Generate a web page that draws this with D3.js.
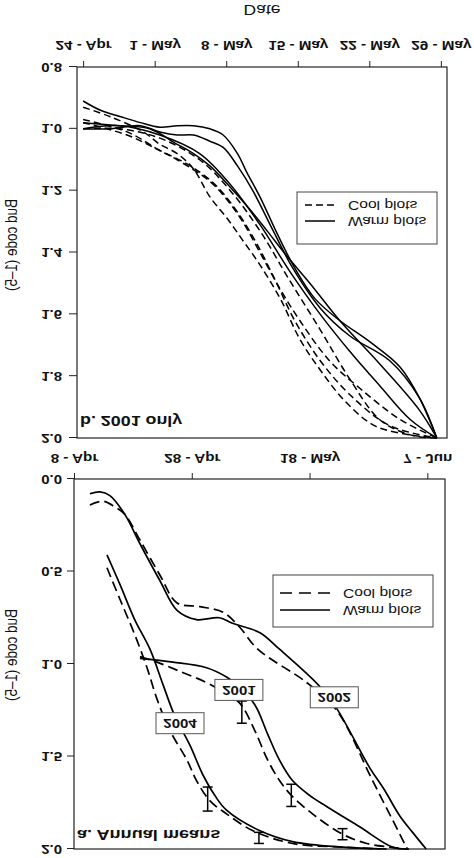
<!DOCTYPE html>
<html><head><meta charset="utf-8">
<script src="https://cdn.jsdelivr.net/npm/d3@7"></script>
<style>
html,body{margin:0;padding:0;background:#fff;}
svg{display:block;}
text{font-family:"Liberation Sans",Arial,sans-serif;fill:#111;}
</style></head><body>
<svg id="c" width="474" height="858"></svg>
<script>
// ---------- Panel a: annual means (x = days after 8 Apr) ----------
const aTickDays = [0, 20, 40, 60];
const aTickLabels = ["8 - Apr", "28 - Apr", "18 - May", "7 - Jun"];
const aYTicks = [0, 0.5, 1.0, 1.5, 2.0];
const a2002Warm = [[2.7,0.08],[4.4,0.07],[6.1,0.09],[8.6,0.19],[11.2,0.35],[14.6,0.55],[17.5,0.71],[20.8,0.76],[24.7,0.75],[26.9,0.78],[31.5,0.83],[34.9,0.92],[41.7,1.12],[44.6,1.24],[50.2,1.56],[52.7,1.68],[55.3,1.82],[57.5,1.91],[59.8,2.0]];
const a2002Cool = [[2.7,0.14],[4.9,0.12],[6.9,0.15],[8.6,0.19],[11.2,0.33],[14.6,0.52],[17.5,0.67],[21.4,0.69],[25.3,0.72],[28.1,0.80],[31.2,0.92],[39.5,1.10],[44.6,1.25],[50.7,1.63],[56.6,2.0]];
const a2001Warm = [[11.2,0.97],[16.8,0.99],[22.5,1.02],[25.9,1.07],[27.6,1.11],[30.7,1.22],[32.9,1.38],[34.9,1.52],[37.1,1.63],[40.0,1.71],[42.9,1.77],[48.5,1.88],[54.1,1.99],[56.9,2.0]];
const a2001Cool = [[11.2,0.96],[14.1,0.99],[18.0,1.04],[22.5,1.10],[24.7,1.14],[28.1,1.21],[30.7,1.36],[32.9,1.52],[34.9,1.63],[36.9,1.71],[40.5,1.81],[45.6,1.92],[49.7,1.97],[53.6,1.99],[56.1,2.0]];
const a2004Warm = [[5.6,0.41],[7.8,0.57],[10.3,0.76],[12.9,0.92],[15.1,1.11],[17.1,1.28],[19.7,1.44],[21.9,1.60],[23.9,1.71],[25.9,1.79],[31.5,1.90],[37.1,1.96],[45.6,1.99],[53.1,2.0]];
const a2004Cool = [[5.6,0.48],[7.8,0.65],[10.3,0.84],[12.4,1.02],[14.1,1.19],[16.3,1.36],[19.2,1.52],[20.8,1.63],[23.1,1.74],[25.9,1.81],[30.3,1.90],[37.1,1.97],[45.6,1.99],[51.9,2.0]];
const aErrorBars = [[22.7,1.73,0.065],[31.4,1.94,0.03],[28.5,1.26,0.06],[36.9,1.71,0.06],[45.6,1.92,0.03]];
const aYearLabels = [["2001",28.0,1.14],["2002",44.2,1.18],["2004",18.0,1.32]];

// ---------- Panel b: 2001 only (x = days after 24 Apr) ----------
const bTickDays = [0, 7, 14, 21, 28, 35];
const bTickLabels = ["24 - Apr", "1 - May", "8 - May", "15 - May", "22 - May", "29 - May"];
const bYTicks = [0.8, 1.0, 1.2, 1.4, 1.6, 1.8, 2.0];
const bWarm1 = [[0,0.91],[1.7,0.94],[3.6,0.96],[5.6,0.98],[7.5,0.995],[9.2,0.99],[10.8,0.99],[12.4,1.0],[13.7,1.02],[15.1,1.08],[16.0,1.14],[17.3,1.22],[19.0,1.34],[20.7,1.45],[22.7,1.55],[25.1,1.62],[28.1,1.69],[31.0,1.77],[32.9,1.87],[34.6,2.0]];
const bWarm2 = [[0,1.0],[2.6,1.0],[5.6,0.99],[7.5,1.01],[9.2,1.02],[10.8,1.02],[12.4,1.04],[13.7,1.06],[15.1,1.12],[16.6,1.20],[18.6,1.33],[20.5,1.45],[23.2,1.58],[26.1,1.67],[30.0,1.75],[32.9,1.87],[34.6,2.0]];
const bWarm3 = [[0,0.98],[3.6,0.99],[6.5,1.0],[9.2,1.05],[10.8,1.08],[12.4,1.12],[14.7,1.20],[16.3,1.26],[18.0,1.33],[19.9,1.41],[22.2,1.50],[25.1,1.62],[29.0,1.76],[32.9,1.91],[34.6,2.0]];
const bWarm4 = [[0,1.0],[3.6,0.99],[7.5,1.02],[11.4,1.08],[14.4,1.18],[17.3,1.31],[20.2,1.46],[23.2,1.60],[26.1,1.72],[29.0,1.83],[32.0,1.94],[34.6,2.0]];
const bCool1 = [[0,0.93],[2.6,0.96],[5.9,1.01],[7.5,1.05],[9.2,1.08],[10.8,1.13],[12.4,1.22],[14.1,1.29],[15.6,1.36],[17.3,1.44],[19.3,1.55],[21.2,1.68],[23.2,1.78],[25.6,1.88],[28.5,1.96],[32.0,1.99],[34.6,2.0]];
const bCool2 = [[0,0.97],[4.3,1.01],[7.5,1.07],[9.2,1.10],[12.4,1.17],[14.1,1.23],[15.6,1.30],[17.3,1.40],[19.3,1.52],[21.2,1.62],[24.1,1.75],[27.1,1.84],[31.0,1.94],[34.6,2.0]];
const bCool3 = [[0,0.98],[4.3,1.02],[7.5,1.07],[10.5,1.12],[12.9,1.18],[14.9,1.26],[16.8,1.36],[18.8,1.49],[20.7,1.62],[23.2,1.75],[26.1,1.86],[30.0,1.96],[34.6,2.0]];
const bCool4 = [[0,1.0],[3.6,1.0],[7.5,1.03],[11.4,1.10],[14.4,1.20],[17.3,1.33],[20.2,1.49],[23.2,1.65],[26.1,1.81],[29.0,1.94],[32.0,1.99],[34.6,2.0]];

const legendLabels = ["Warm plots", "Cool plots"];

// ---------- drawing ----------
const W = 474, H = 858, SX = 1.25;
const svg = d3.select("#c");
// the whole figure appears mirrored top-to-bottom
const root = svg.append("g").attr("transform", `translate(0,${H}) scale(1,-1)`);

const xA = d3.scaleLinear().domain([0, 63]).range([74, 445]);
const yA = d3.scaleLinear().domain([0, 2]).range([379, 9]);
const xB = d3.scaleLinear().domain([-0.6, 35.6]).range([77, 447]);
const yB = d3.scaleLinear().domain([0.8, 2.0]).range([791, 420]);

function txt(g, x, y, s, size, weight, anchor) {
  return g.append("text")
    .attr("transform", `translate(${x},${y}) scale(${SX},1)`)
    .attr("text-anchor", anchor || "start")
    .attr("dy", "0.35em")
    .style("font-size", size + "px")
    .style("font-weight", weight || "normal")
    .text(s);
}

function panel(xs, ys, xTicks, xLabels, yTicks, yFmt, opts) {
  const g = root.append("g");
  const [x0, x1] = xs.range(), [y0, y1] = ys.range();
  const ax = g.append("g").attr("transform", `translate(0,${y0})`)
    .call(d3.axisBottom(xs).tickValues(xTicks).tickFormat((d, i) => xLabels[i])
      .tickSize(6).tickSizeOuter(0).tickPadding(opts.xPad));
  ax.selectAll("text").attr("transform", `scale(${SX},1)`)
    .style("font-size", "12.2px").style("font-weight", "bold");
  const ay = g.append("g").attr("transform", `translate(${x0},0)`)
    .call(d3.axisLeft(ys).tickValues(yTicks).tickFormat(yFmt).tickSize(opts.yTick).tickSizeOuter(0));
  ay.selectAll("text").attr("x", -opts.yLab / SX).attr("transform", `scale(${SX},1)`)
    .style("font-size", "12px").style("font-weight", "bold");
  g.selectAll(".domain").remove();
  g.selectAll(".tick line").attr("stroke", "#222");
  g.append("rect").attr("x", x0).attr("y", y1).attr("width", x1 - x0).attr("height", y0 - y1)
    .attr("fill", "none").attr("stroke", "#222").attr("stroke-width", 1.2);
  return g;
}

function drawLines(g, xs, ys, list, dash, sw) {
  const line = d3.line().x(d => xs(d[0])).y(d => ys(d[1])).curve(d3.curveCatmullRom.alpha(0.5));
  list.forEach(s => {
    g.append("path").attr("d", line(s.data)).attr("fill", "none").attr("stroke", "#000")
      .attr("stroke-width", sw).attr("stroke-dasharray", s.dashed ? dash : null);
  });
}

function legend(g, x, y, w, h, lineX0, lineX1, textX, rowY, dash) {
  g.append("rect").attr("x", x).attr("y", y).attr("width", w).attr("height", h)
    .attr("fill", "#fff").attr("stroke", "#444").attr("stroke-width", 1);
  legendLabels.forEach((lab, i) => {
    g.append("line").attr("x1", lineX0).attr("x2", lineX1).attr("y1", rowY[i]).attr("y2", rowY[i])
      .attr("stroke", "#000").attr("stroke-width", 1.5).attr("stroke-dasharray", i === 1 ? dash : null);
    txt(g, textX, rowY[i], lab, 12.5, "normal", "start");
  });
}

function yTitle(g, cy) {
  g.append("text").attr("transform", `translate(11,${cy}) scale(${SX},1) rotate(-90)`)
    .attr("text-anchor", "middle").attr("dy", "0.35em")
    .style("font-size", "13.5px").text("Bud code (1–5)");
}

// ---- panel a ----
const gA = panel(xA, yA, aTickDays, aTickLabels, aYTicks, d3.format(".1f"), {xPad: 10, yTick: 7, yLab: 12});
drawLines(gA, xA, yA, [
  {data: a2002Warm, dashed: false}, {data: a2002Cool, dashed: true},
  {data: a2001Warm, dashed: false}, {data: a2001Cool, dashed: true},
  {data: a2004Warm, dashed: false}, {data: a2004Cool, dashed: true}
], "10,5", 1.7);
aErrorBars.forEach(([d, v, e]) => {
  const x = xA(d), ya = yA(v - e), yb = yA(v + e);
  gA.append("line").attr("x1", x).attr("x2", x).attr("y1", ya).attr("y2", yb).attr("stroke", "#000").attr("stroke-width", 1.5);
  [ya, yb].forEach(yy => gA.append("line").attr("x1", x - 5).attr("x2", x + 5).attr("y1", yy).attr("y2", yy).attr("stroke", "#000").attr("stroke-width", 1.5));
});
aYearLabels.forEach(([s, d, v]) => {
  const cx = xA(d), cy = yA(v);
  gA.append("rect").attr("x", cx - 24).attr("y", cy - 10.5).attr("width", 48).attr("height", 21)
    .attr("fill", "#fff").attr("stroke", "#555").attr("stroke-width", 1);
  txt(gA, cx, cy, s, 12, "bold", "middle");
});
legend(gA, 273, 231, 160, 52, 280, 330, 343, [248, 265], "12,7");
txt(gA, 77, 23, "a. Annual means", 14.5, "bold", "start");
yTitle(gA, 203);

// ---- panel b ----
const gB = panel(xB, yB, bTickDays, bTickLabels, bYTicks, d3.format(".1f"), {xPad: 11, yTick: 8, yLab: 15});
drawLines(gB, xB, yB, [
  {data: bWarm1, dashed: false}, {data: bWarm2, dashed: false},
  {data: bWarm3, dashed: false}, {data: bWarm4, dashed: false},
  {data: bCool1, dashed: true}, {data: bCool2, dashed: true},
  {data: bCool3, dashed: true}, {data: bCool4, dashed: true}
], "7,4", 1.5);
legend(gB, 297, 614, 140, 52, 305, 335, 348, [637, 653], "7,4");
txt(gB, 80, 437, "b. 2001 only", 14.3, "bold", "start");
yTitle(gB, 613);
txt(gB, 262, 848, "Date", 14, "normal", "middle");
</script>
</body></html>
